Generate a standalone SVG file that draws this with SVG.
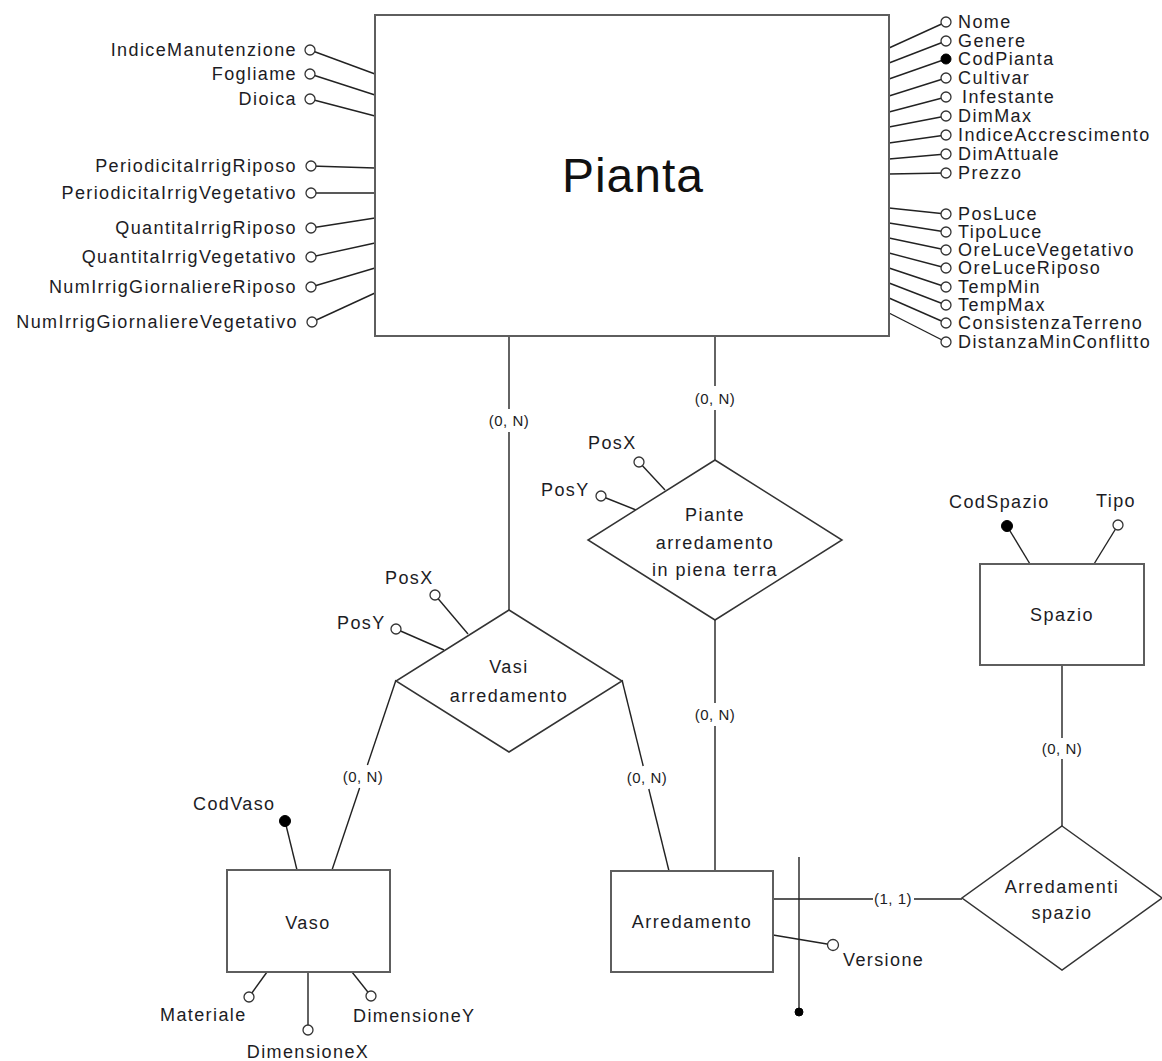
<svg xmlns="http://www.w3.org/2000/svg" width="1162" height="1061" viewBox="0 0 1162 1061">
  <style>
    text { font-family: "Liberation Sans", Arial, sans-serif; fill: #1c1c24; }
    .attr { font-size: 18px; letter-spacing: 1.4px; }
    .lbl { font-size: 18px; letter-spacing: 1.5px; text-anchor: middle; }
    .card { font-size: 15px; letter-spacing: 0.5px; text-anchor: middle; }
    .title { font-size: 48px; letter-spacing: 1px; text-anchor: middle; fill: #111; }
    .end { text-anchor: end; }
    .mid { text-anchor: middle; }
    .ent { fill: #fff; stroke: #5e5e5e; stroke-width: 2; }
    .rel { fill: #fff; stroke: #333; stroke-width: 1.5; }
    .op { fill: #fff; stroke: #333; stroke-width: 1.3; }
    .id { fill: #000; stroke: #000; stroke-width: 1; }
    #connectors line { stroke: #222; stroke-width: 1.4; fill: none; }
  </style>

  <!-- connectors (drawn first so shapes sit on top) -->
  <g id="connectors">
    <!-- Pianta, left attributes -->
    <line x1="310" y1="50" x2="375" y2="74"/>
    <line x1="310" y1="74" x2="375" y2="95"/>
    <line x1="310" y1="99" x2="375" y2="116"/>
    <line x1="311" y1="166" x2="375" y2="168"/>
    <line x1="311" y1="193" x2="375" y2="193"/>
    <line x1="311" y1="228" x2="375" y2="218"/>
    <line x1="311" y1="257" x2="375" y2="243"/>
    <line x1="311" y1="287" x2="375" y2="268"/>
    <line x1="312" y1="322" x2="375" y2="293"/>
    <!-- Pianta, right attributes -->
    <line x1="889" y1="48" x2="946" y2="22"/>
    <line x1="889" y1="63" x2="946" y2="41"/>
    <line x1="889" y1="79" x2="946" y2="59"/>
    <line x1="889" y1="96" x2="946" y2="78"/>
    <line x1="889" y1="112" x2="946" y2="97"/>
    <line x1="889" y1="127" x2="946" y2="116"/>
    <line x1="889" y1="143" x2="946" y2="135"/>
    <line x1="889" y1="159" x2="946" y2="154"/>
    <line x1="889" y1="174" x2="946" y2="173"/>
    <line x1="889" y1="208" x2="946" y2="214"/>
    <line x1="889" y1="223" x2="946" y2="232"/>
    <line x1="889" y1="238" x2="946" y2="250"/>
    <line x1="889" y1="253" x2="946" y2="268"/>
    <line x1="889" y1="268" x2="946" y2="287"/>
    <line x1="889" y1="283" x2="946" y2="305"/>
    <line x1="889" y1="298" x2="946" y2="323"/>
    <line x1="889" y1="313" x2="946" y2="342"/>

    <!-- Pianta - Vasi arredamento -->
    <line x1="509" y1="336" x2="509" y2="409"/>
    <line x1="509" y1="432" x2="509" y2="610"/>
    <!-- Pianta - Piante arredamento in piena terra -->
    <line x1="715" y1="336" x2="715" y2="386"/>
    <line x1="715" y1="410" x2="715" y2="460"/>
    <!-- Piante arredamento in piena terra - Arredamento -->
    <line x1="715" y1="620" x2="715" y2="703"/>
    <line x1="715" y1="726" x2="715" y2="871"/>
    <!-- Vasi arredamento - Vaso -->
    <line x1="396" y1="680" x2="367.4" y2="765"/>
    <line x1="359.6" y1="788" x2="332" y2="870"/>
    <!-- Vasi arredamento - Arredamento -->
    <line x1="622" y1="680" x2="643.2" y2="766"/>
    <line x1="648.8" y1="789" x2="669" y2="871"/>
    <!-- Arredamento - Arredamenti spazio -->
    <line x1="773" y1="899" x2="873" y2="899"/>
    <line x1="914" y1="899" x2="962" y2="899"/>
    <!-- Spazio - Arredamenti spazio -->
    <line x1="1062" y1="665" x2="1062" y2="738"/>
    <line x1="1062" y1="759" x2="1062" y2="826"/>

    <!-- relationship attributes -->
    <line x1="639" y1="462" x2="665" y2="490"/>
    <line x1="601" y1="496" x2="636" y2="510"/>
    <line x1="435" y1="595" x2="468" y2="634"/>
    <line x1="396" y1="629" x2="444" y2="650"/>

    <!-- Vaso attributes -->
    <line x1="285" y1="821" x2="297" y2="870"/>
    <line x1="267" y1="972" x2="249" y2="997"/>
    <line x1="308" y1="972" x2="308" y2="1030"/>
    <line x1="352" y1="972" x2="371" y2="996"/>

    <!-- Arredamento attribute and external identifier -->
    <line x1="773" y1="935" x2="833" y2="945"/>
    <line x1="799" y1="857" x2="799" y2="1012"/>

    <!-- Spazio attributes -->
    <line x1="1007" y1="526" x2="1030" y2="564"/>
    <line x1="1118" y1="525" x2="1094" y2="564"/>
  </g>

  <!-- cardinalities -->
  <g id="cardinalities">
    <text class="card" x="509" y="426">(0, N)</text>
    <text class="card" x="715" y="404">(0, N)</text>
    <text class="card" x="715" y="720">(0, N)</text>
    <text class="card" x="363" y="782">(0, N)</text>
    <text class="card" x="647" y="783">(0, N)</text>
    <text class="card" x="893" y="904">(1, 1)</text>
    <text class="card" x="1062" y="754">(0, N)</text>
  </g>

  <!-- entity: Pianta -->
  <g id="pianta">
    <rect class="ent" x="375" y="15" width="514" height="321"/>
    <text class="title" x="633" y="192">Pianta</text>
  </g>

  <!-- Pianta attributes, left column -->
  <g id="pianta-attr-left">
    <circle class="op" cx="310" cy="50" r="5"/>
    <text class="attr end" x="297" y="56">IndiceManutenzione</text>
    <circle class="op" cx="310" cy="74" r="5"/>
    <text class="attr end" x="297" y="80">Fogliame</text>
    <circle class="op" cx="310" cy="99" r="5"/>
    <text class="attr end" x="297" y="105">Dioica</text>
    <circle class="op" cx="311" cy="166" r="5"/>
    <text class="attr end" x="297" y="172">PeriodicitaIrrigRiposo</text>
    <circle class="op" cx="311" cy="193" r="5"/>
    <text class="attr end" x="297" y="199">PeriodicitaIrrigVegetativo</text>
    <circle class="op" cx="311" cy="228" r="5"/>
    <text class="attr end" x="297" y="234">QuantitaIrrigRiposo</text>
    <circle class="op" cx="311" cy="257" r="5"/>
    <text class="attr end" x="297" y="263">QuantitaIrrigVegetativo</text>
    <circle class="op" cx="311" cy="287" r="5"/>
    <text class="attr end" x="297" y="293">NumIrrigGiornaliereRiposo</text>
    <circle class="op" cx="312" cy="322" r="5"/>
    <text class="attr end" x="298" y="328">NumIrrigGiornaliereVegetativo</text>
  </g>

  <!-- Pianta attributes, right column -->
  <g id="pianta-attr-right">
    <circle class="op" cx="946" cy="22" r="5"/>
    <text class="attr" x="958" y="28">Nome</text>
    <circle class="op" cx="946" cy="41" r="5"/>
    <text class="attr" x="958" y="47">Genere</text>
    <circle class="id" cx="946" cy="59" r="5"/>
    <text class="attr" x="958" y="65">CodPianta</text>
    <circle class="op" cx="946" cy="78" r="5"/>
    <text class="attr" x="958" y="84">Cultivar</text>
    <circle class="op" cx="946" cy="97" r="5"/>
    <text class="attr" x="962" y="103">Infestante</text>
    <circle class="op" cx="946" cy="116" r="5"/>
    <text class="attr" x="958" y="122">DimMax</text>
    <circle class="op" cx="946" cy="135" r="5"/>
    <text class="attr" x="958" y="141">IndiceAccrescimento</text>
    <circle class="op" cx="946" cy="154" r="5"/>
    <text class="attr" x="958" y="160">DimAttuale</text>
    <circle class="op" cx="946" cy="173" r="5"/>
    <text class="attr" x="958" y="179">Prezzo</text>
    <circle class="op" cx="946" cy="214" r="5"/>
    <text class="attr" x="958" y="220">PosLuce</text>
    <circle class="op" cx="946" cy="232" r="5"/>
    <text class="attr" x="958" y="238">TipoLuce</text>
    <circle class="op" cx="946" cy="250" r="5"/>
    <text class="attr" x="958" y="256">OreLuceVegetativo</text>
    <circle class="op" cx="946" cy="268" r="5"/>
    <text class="attr" x="958" y="274">OreLuceRiposo</text>
    <circle class="op" cx="946" cy="287" r="5"/>
    <text class="attr" x="958" y="293">TempMin</text>
    <circle class="op" cx="946" cy="305" r="5"/>
    <text class="attr" x="958" y="311">TempMax</text>
    <circle class="op" cx="946" cy="323" r="5"/>
    <text class="attr" x="958" y="329">ConsistenzaTerreno</text>
    <circle class="op" cx="946" cy="342" r="5"/>
    <text class="attr" x="958" y="348">DistanzaMinConflitto</text>
  </g>

  <!-- relationship: Piante arredamento in piena terra -->
  <g id="piante-arredamento-piena-terra">
    <polygon class="rel" points="715,460 842,540 715,620 588,540"/>
    <text class="lbl" x="715" y="521">Piante</text>
    <text class="lbl" x="715" y="549">arredamento</text>
    <text class="lbl" x="715" y="576">in piena terra</text>
    <circle class="op" cx="639" cy="462" r="5"/>
    <text class="attr" x="588" y="449">PosX</text>
    <circle class="op" cx="601" cy="496" r="5"/>
    <text class="attr" x="541" y="496">PosY</text>
  </g>

  <!-- relationship: Vasi arredamento -->
  <g id="vasi-arredamento">
    <polygon class="rel" points="509,610 622,681 509,752 396,681"/>
    <text class="lbl" x="509" y="673">Vasi</text>
    <text class="lbl" x="509" y="702">arredamento</text>
    <circle class="op" cx="435" cy="595" r="5"/>
    <text class="attr" x="385" y="584">PosX</text>
    <circle class="op" cx="396" cy="629" r="5"/>
    <text class="attr" x="337" y="629">PosY</text>
  </g>

  <!-- entity: Vaso -->
  <g id="vaso">
    <rect class="ent" x="227" y="870" width="163" height="102"/>
    <text class="lbl" x="308" y="929">Vaso</text>
    <circle class="id" cx="285" cy="821" r="5.5"/>
    <text class="attr" x="193" y="810">CodVaso</text>
    <circle class="op" cx="249" cy="997" r="5"/>
    <text class="attr" x="160" y="1021">Materiale</text>
    <circle class="op" cx="308" cy="1030" r="5"/>
    <text class="attr mid" x="308" y="1058">DimensioneX</text>
    <circle class="op" cx="371" cy="996" r="5"/>
    <text class="attr" x="353" y="1022">DimensioneY</text>
  </g>

  <!-- entity: Arredamento -->
  <g id="arredamento">
    <rect class="ent" x="611" y="871" width="162" height="101"/>
    <text class="lbl" x="692" y="928">Arredamento</text>
    <circle class="op" cx="833" cy="945" r="5.5"/>
    <text class="attr" x="843" y="966">Versione</text>
    <circle class="id" cx="799" cy="1012" r="4"/>
  </g>

  <!-- relationship: Arredamenti spazio -->
  <g id="arredamenti-spazio">
    <polygon class="rel" points="1062,826 1162,898 1062,970 962,898"/>
    <text class="lbl" x="1062" y="893">Arredamenti</text>
    <text class="lbl" x="1062" y="919">spazio</text>
  </g>

  <!-- entity: Spazio -->
  <g id="spazio">
    <rect class="ent" x="980" y="564" width="164" height="101"/>
    <text class="lbl" x="1062" y="621">Spazio</text>
    <circle class="id" cx="1007" cy="526" r="5.5"/>
    <text class="attr" x="949" y="508">CodSpazio</text>
    <circle class="op" cx="1118" cy="525" r="5"/>
    <text class="attr" x="1096" y="507">Tipo</text>
  </g>
</svg>
